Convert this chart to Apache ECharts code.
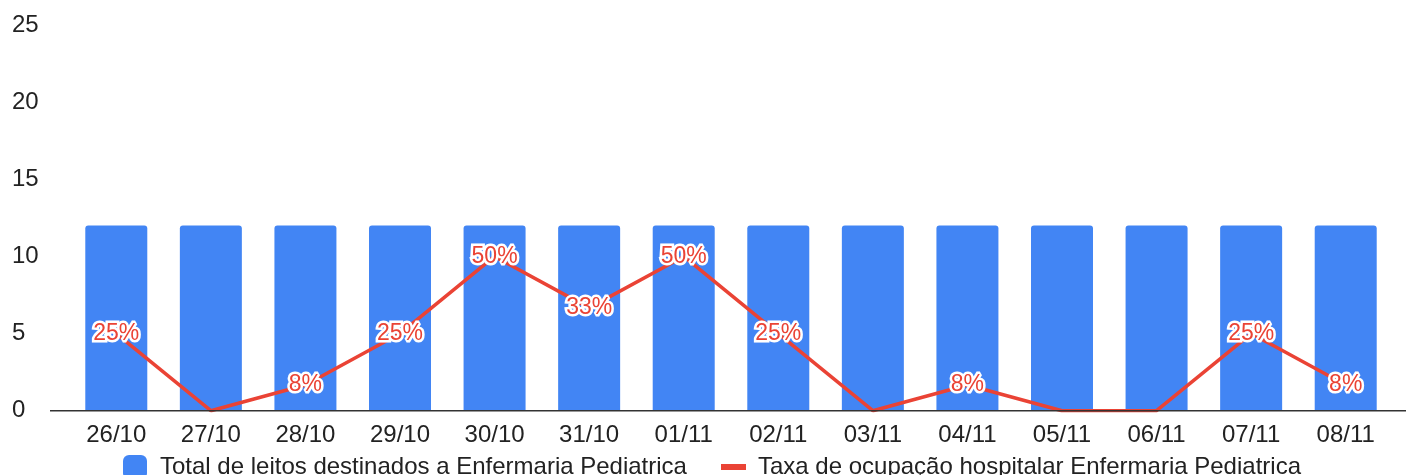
<!DOCTYPE html>
<html>
<head>
<meta charset="utf-8">
<script src="https://cdn.jsdelivr.net/npm/echarts@6/dist/echarts.min.js"></script>
<style>
html,body{margin:0;padding:0;background:#fff;}
#chart{width:1408px;height:475px;}
</style>
</head>
<body>
<div id="chart"></div>
<script>
const categories = ['26/10','27/10','28/10','29/10','30/10','31/10','01/11','02/11','03/11','04/11','05/11','06/11','07/11','08/11'];
const totalBeds = [12,12,12,12,12,12,12,12,12,12,12,12,12,12];
const occupancyPct = [25,0,8.33,25,50,33.33,50,25,0,8.33,0,0,25,8.33];
const yTicks = [0,5,10,15,20,25];
const barName = 'Total de leitos destinados a Enfermaria Pediatrica';
const lineName = 'Taxa de ocupação hospitalar Enfermaria Pediatrica';

const FONT = 'Liberation Sans, Arial, sans-serif';
const chart = echarts.init(document.getElementById('chart'), null, {renderer:'canvas'});
const option = {
  animation:false,
  textStyle:{fontFamily:FONT},
  grid:{left:69,right:15,top:25,bottom:64.3,containLabel:false},
  legend:[
    {data:[{name:barName,icon:'roundRect'}],left:118,top:450,itemWidth:24,itemHeight:24,
     textStyle:{fontFamily:FONT,fontSize:24,color:'#222',lineHeight:24,padding:[0,0,0,8]}},
    {data:[{name:lineName,icon:'rect'}],left:716,top:450,itemWidth:25,itemHeight:6,
     textStyle:{fontFamily:FONT,fontSize:24,color:'#222',lineHeight:24,padding:[0,0,0,7]}}
  ],
  xAxis:{type:'category',data:categories,
    axisLine:{show:false},axisTick:{show:false},
    axisLabel:{fontFamily:FONT,fontSize:24,color:'#222',margin:13}},
  yAxis:[
    {type:'value',min:yTicks[0],max:yTicks[yTicks.length-1],interval:5,
     splitLine:{show:false},axisLine:{show:false},axisTick:{show:false},
     axisLabel:{fontFamily:FONT,fontSize:24,color:'#222',align:'left',margin:57}},
    {type:'value',min:0,max:125,show:false,splitLine:{show:false}}
  ],
  series:[
    {name:barName,type:'bar',data:totalBeds,barWidth:62,
     itemStyle:{color:'#4285f4',borderRadius:[3,3,0,0]}},
    {name:lineName,type:'line',yAxisIndex:1,data:occupancyPct,
     symbol:'circle',symbolSize:1,showSymbol:true,
     lineStyle:{color:'#ea4335',width:3.5},itemStyle:{color:'#ea4335'},
     label:{show:true,position:'inside',fontFamily:FONT,fontSize:23,color:'#ea4335',
       textBorderColor:'#fff',textBorderWidth:5,
       formatter:p=>p.value===0?'':Math.round(p.value)+'%'}}
  ]
};
chart.setOption(option);
const y0 = chart.convertToPixel({yAxisIndex:0},0);
chart.setOption({graphic:[{type:'line',z:10,shape:{x1:50,y1:y0,x2:1406,y2:y0},style:{stroke:'#333',lineWidth:1.5}}]});
</script>
</body>
</html>
